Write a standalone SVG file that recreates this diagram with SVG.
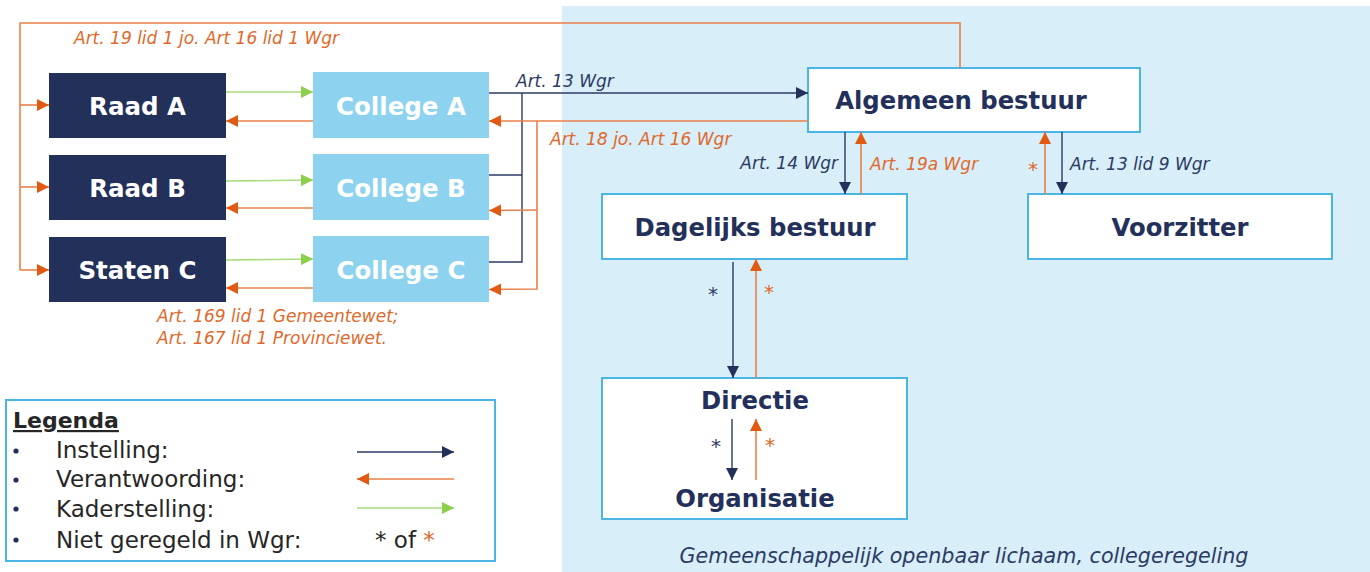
<svg xmlns="http://www.w3.org/2000/svg" width="1370" height="572" viewBox="0 0 1370 572">
<defs>
<style>
text{font-family:"DejaVu Sans","Liberation Sans",sans-serif}
.dark{fill:#22305a}
.coll{fill:#8dd3f0}
.wbox{fill:#fff;stroke:#4bb6e6;stroke-width:2}
.wt{fill:#fff;font-weight:bold;font-size:24.5px;text-anchor:middle}
.nt{fill:#22305a;font-weight:bold;font-size:24.3px;text-anchor:middle}
.lbn{fill:#2c3a64;font-style:italic;font-size:17px}
.lbo{fill:#e0692a;font-style:italic;font-size:17px}
.ast{font-size:20px}
.nav{stroke:#2c3a64;stroke-width:1.4;fill:none}
.ora{stroke:#e8804a;stroke-width:1.6;fill:none}
.grn{stroke:#a8dc7e;stroke-width:1.6;fill:none}
.leg{fill:#262626;font-size:23px}
</style>
<marker id="an" viewBox="0 0 10 10" refX="10" refY="5" markerWidth="12" markerHeight="12" markerUnits="userSpaceOnUse" orient="auto"><path d="M0,0L10,5L0,10z" fill="#22305a"/></marker>
<marker id="ao" viewBox="0 0 10 10" refX="10" refY="5" markerWidth="12" markerHeight="12" markerUnits="userSpaceOnUse" orient="auto"><path d="M0,0L10,5L0,10z" fill="#e05a12"/></marker>
<marker id="ag" viewBox="0 0 10 10" refX="10" refY="5" markerWidth="12" markerHeight="12" markerUnits="userSpaceOnUse" orient="auto"><path d="M0,0L10,5L0,10z" fill="#8ccf4a"/></marker>
</defs>
<rect x="562" y="6" width="808" height="566" fill="#d8eef9"/>

<g id="raad-a"><rect class="dark" x="49" y="73" width="177" height="65"/><text class="wt" x="137.5" y="115">Raad A</text></g>
<g id="raad-b"><rect class="dark" x="49" y="155" width="177" height="65"/><text class="wt" x="137.5" y="197">Raad B</text></g>
<g id="staten-c"><rect class="dark" x="49" y="237" width="177" height="65"/><text class="wt" x="137.5" y="279">Staten C</text></g>
<g id="college-a"><rect class="coll" x="313" y="72" width="176" height="66"/><text class="wt" x="401" y="115">College A</text></g>
<g id="college-b"><rect class="coll" x="313" y="154" width="176" height="66"/><text class="wt" x="401" y="197">College B</text></g>
<g id="college-c"><rect class="coll" x="313" y="236" width="176" height="66"/><text class="wt" x="401" y="279">College C</text></g>

<g id="algemeen-bestuur"><rect class="wbox" x="808" y="68" width="332" height="64"/><text class="nt" x="961" y="109">Algemeen bestuur</text></g>
<g id="dagelijks-bestuur"><rect class="wbox" x="602" y="194" width="305" height="65"/><text class="nt" x="755" y="236">Dagelijks bestuur</text></g>
<g id="voorzitter"><rect class="wbox" x="1028" y="194" width="304" height="65"/><text class="nt" x="1180" y="236">Voorzitter</text></g>
<g id="directie-organisatie"><rect class="wbox" x="602" y="378" width="305" height="141"/><text class="nt" x="755" y="409">Directie</text><text class="nt" x="755" y="507">Organisatie</text></g>

<g id="connectors">
<polyline class="ora" points="960,68 960,23 20,23 20,270"/>
<line class="ora" x1="20" y1="105" x2="49" y2="105" marker-end="url(#ao)"/>
<line class="ora" x1="20" y1="187" x2="49" y2="187" marker-end="url(#ao)"/>
<line class="ora" x1="20" y1="270" x2="49" y2="270" marker-end="url(#ao)"/>

<line class="grn" x1="226" y1="92" x2="313" y2="92" marker-end="url(#ag)"/>
<line class="grn" x1="226" y1="181" x2="313" y2="180" marker-end="url(#ag)"/>
<line class="grn" x1="226" y1="260" x2="313" y2="259" marker-end="url(#ag)"/>
<line class="ora" x1="313" y1="121" x2="226" y2="121" marker-end="url(#ao)"/>
<line class="ora" x1="313" y1="208" x2="226" y2="208" marker-end="url(#ao)"/>
<line class="ora" x1="313" y1="288" x2="226" y2="288" marker-end="url(#ao)"/>

<line class="nav" x1="489" y1="93" x2="808" y2="93" marker-end="url(#an)"/>
<polyline class="nav" points="522,93 522,262 489,262"/>
<line class="nav" x1="489" y1="175" x2="522" y2="175"/>
<line class="ora" x1="808" y1="121" x2="489" y2="121" marker-end="url(#ao)"/>
<polyline class="ora" points="537,121 537,289 489,289.5" marker-end="url(#ao)"/>
<line class="ora" x1="537" y1="210" x2="489" y2="210.5" marker-end="url(#ao)"/>

<line class="nav" x1="845" y1="132" x2="845" y2="194" marker-end="url(#an)"/>
<line class="ora" x1="861" y1="194" x2="861" y2="132" marker-end="url(#ao)"/>
<line class="ora" x1="1045" y1="194" x2="1045" y2="132" marker-end="url(#ao)"/>
<line class="nav" x1="1062" y1="132" x2="1062" y2="194" marker-end="url(#an)"/>

<line class="nav" x1="733" y1="262" x2="733" y2="378" marker-end="url(#an)"/>
<line class="ora" x1="756" y1="378" x2="756" y2="259" marker-end="url(#ao)"/>
<line class="nav" x1="732" y1="419" x2="732" y2="480" marker-end="url(#an)"/>
<line class="ora" x1="756" y1="480" x2="756" y2="419" marker-end="url(#ao)"/>

<text class="lbo" x="74" y="44">Art. 19 lid 1 jo. Art 16 lid 1 Wgr</text>
<text class="lbn" x="516" y="87">Art. 13 Wgr</text>
<text class="lbo" x="550" y="145">Art. 18 jo. Art 16 Wgr</text>
<text class="lbn" x="838" y="169" text-anchor="end">Art. 14 Wgr</text>
<text class="lbo" x="870" y="170">Art. 19a Wgr</text>
<text class="lbo ast" x="1028" y="176">*</text>
<text class="lbn" x="1070" y="170">Art. 13 lid 9 Wgr</text>
<text class="lbn ast" x="708" y="301">*</text>
<text class="lbo ast" x="764" y="299">*</text>
<text class="lbn ast" x="711" y="453">*</text>
<text class="lbo ast" x="765" y="452">*</text>
<text class="lbo" x="157" y="322" font-size="16">Art. 169 lid 1 Gemeentewet;</text>
<text class="lbo" x="157" y="344" font-size="16">Art. 167 lid 1 Provinciewet.</text>
</g>

<text x="964" y="563" fill="#2c3a64" font-style="italic" font-size="20.7" text-anchor="middle">Gemeenschappelijk openbaar lichaam, collegeregeling</text>

<g id="legenda">
<rect x="6" y="400" width="489" height="161" fill="#fff" stroke="#4bb6e6" stroke-width="2"/>
<text x="13" y="428" font-size="22" font-weight="bold" fill="#262626" text-decoration="underline">Legenda</text>
<g fill="#22305a"><circle cx="16" cy="451" r="2.6"/><circle cx="16" cy="480" r="2.6"/><circle cx="16" cy="509" r="2.6"/><circle cx="16" cy="540" r="2.6"/></g>
<text class="leg" x="56" y="458">Instelling:</text>
<text class="leg" x="56" y="487">Verantwoording:</text>
<text class="leg" x="56" y="517">Kaderstelling:</text>
<text class="leg" x="56" y="548">Niet geregeld in Wgr:</text>
<line class="nav" x1="357" y1="452" x2="454" y2="452" marker-end="url(#an)"/>
<line class="ora" x1="454" y1="479" x2="357" y2="479" marker-end="url(#ao)"/>
<line class="grn" x1="357" y1="508" x2="454" y2="508" marker-end="url(#ag)"/>
<text class="leg" x="375" y="548">* of <tspan fill="#e0692a">*</tspan></text>
</g>
</svg>
